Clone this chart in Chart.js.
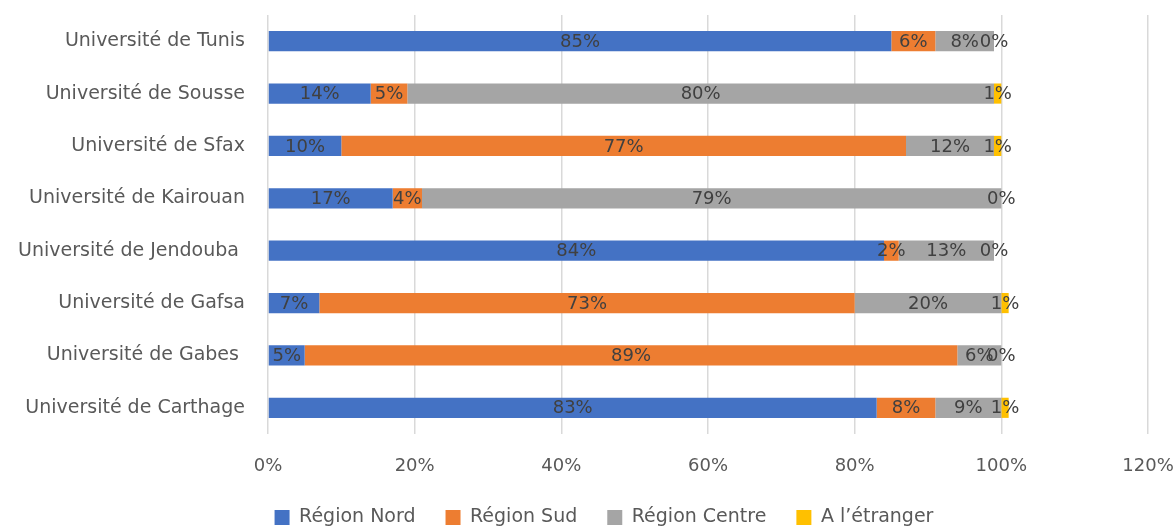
<!DOCTYPE html>
<html>
<head>
<meta charset="utf-8">
<script src="https://cdn.jsdelivr.net/npm/chart.js@4/dist/chart.umd.min.js"></script>
<style>
    html, body { margin:0; padding:0; background:#fff; }
    #wrap { width:1176px; height:528px; }
</style>
</head>
<body>
<div id="wrap"><canvas id="myChart" width="1176" height="528"></canvas></div>
<script>
// ---- data ----
const universities = [
    'Université de Tunis',
    'Université de Sousse',
    'Université de Sfax',
    'Université de Kairouan',
    'Université de Jendouba ',
    'Université de Gafsa',
    'Université de Gabes ',
    'Université de Carthage'
];
const seriesNames = ['Région Nord', 'Région Sud', 'Région Centre', 'A l’étranger'];
const regionNord   = [85, 14, 10, 17, 84,  7,  5, 83];
const regionSud    = [ 6,  5, 77,  4,  2, 73, 89,  8];
const regionCentre = [ 8, 80, 12, 79, 13, 20,  6,  9];
const etranger     = [ 0,  1,  1,  0,  0,  1,  0,  1];
const xTicks = [0, 20, 40, 60, 80, 100, 120];

const colors = ['#4472C4', '#ED7D31', '#A5A5A5', '#FFC000'];
const FONT = 'DejaVu Sans';

// value labels centred in each segment
const valueLabels = {
    id: 'valueLabels',
    afterDatasetsDraw(chart) {
        const ctx = chart.ctx;
        ctx.save();
        ctx.font = '18px ' + FONT;
        ctx.fillStyle = '#404040';
        ctx.textAlign = 'center';
        ctx.textBaseline = 'middle';
        chart.data.datasets.forEach((ds, i) => {
            chart.getDatasetMeta(i).data.forEach((bar, j) => {
                const x = (bar.x + bar.base) / 2;
                ctx.fillText(ds.data[j] + '%', x, bar.y + 1);
            });
        });
        ctx.restore();
    }
};

// the original legend sits a bit right of the canvas centre
const legendShift = {
    id: 'legendShift',
    afterLayout(chart) {
        if (!chart.legend) return;
        chart.legend.left  += 30;
        chart.legend.right += 30;
    }
};

const series = [regionNord, regionSud, regionCentre, etranger];

new Chart(document.getElementById('myChart'), {
    type: 'bar',
    data: {
        labels: universities,
        datasets: series.map((vals, i) => ({
            label: seriesNames[i],
            data: vals,
            backgroundColor: colors[i],
            borderWidth: 0,
            barPercentage: 0.385,
            categoryPercentage: 1
        }))
    },
    options: {
        indexAxis: 'y',
        responsive: false,
        animation: false,
        layout: { padding: { top: 15, right: 28, left: 0, bottom: -9 } },
        scales: {
            x: {
                stacked: true,
                min: 0,
                max: 120,
                afterBuildTicks: s => { s.ticks = xTicks.map(v => ({ value: v })); },
                afterFit: s => { s.height = 44; s.paddingLeft = 0; s.paddingRight = 0; },
                grid: { color: '#D9D9D9', lineWidth: 1.5, drawTicks: false },
                border: { display: false },
                ticks: {
                    color: '#595959',
                    font: { family: FONT, size: 18 },
                    padding: 22,
                    callback: v => v + '%'
                }
            },
            y: {
                stacked: true,
                afterFit: s => { s.width = 268; s.paddingTop = 0; s.paddingBottom = 0; },
                grid: { display: false, drawTicks: false },
                border: { display: false },
                ticks: {
                    color: '#595959',
                    font: { family: FONT, size: 19 },
                    padding: 23
                }
            }
        },
        plugins: {
            legend: {
                position: 'bottom',
                labels: {
                    color: '#595959',
                    font: { family: FONT, size: 19 },
                    boxWidth: 15,
                    boxHeight: 15,
                    padding: 30
                }
            },
            tooltip: { enabled: false }
        }
    },
    plugins: [valueLabels, legendShift]
});
</script>
</body>
</html>
